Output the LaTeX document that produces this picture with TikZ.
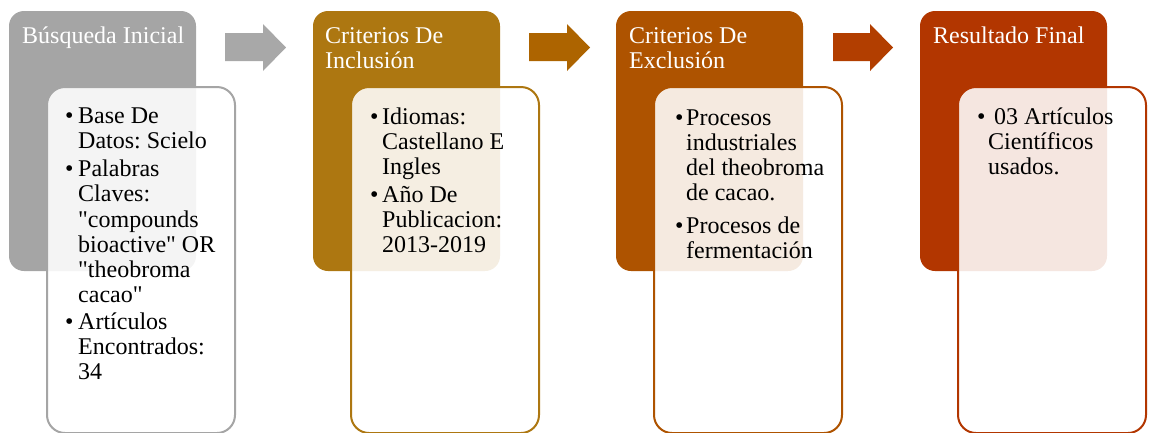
\documentclass[tikz,border=0pt]{standalone}
\usepackage{fontspec}
\setmainfont{Liberation Serif}
\frenchspacing
\definecolor{cA}{HTML}{A5A5A5}
\definecolor{cB}{HTML}{AD7711}
\definecolor{cC}{HTML}{AE5300}
\definecolor{cD}{HTML}{B23600}
\definecolor{aA}{HTML}{A8A8A8}
\definecolor{aB}{HTML}{AD6400}
\definecolor{aC}{HTML}{B23E00}
\tikzset{
  topbox/.style={rectangle, rounded corners=15pt, inner sep=0pt, outer sep=0pt, anchor=north west,
    minimum width=187pt, minimum height=260pt},
  lowbox/.style={rectangle, draw, line width=2pt, rounded corners=18pt, fill=white, fill opacity=0.88,
    inner sep=0pt, outer sep=0pt, anchor=north west, minimum width=188pt, minimum height=346pt},
  titletext/.style={anchor=base west, inner sep=0pt, text=white},
  bodytext/.style={anchor=base west, inner sep=0pt, text=black},
}
\newcommand{\qq}{\textquotedbl}
\begin{document}
\begin{tikzpicture}[x=1pt, y=-1pt]
\useasboundingbox (0,0) rectangle (1150,432);
% block arrows
\fill[aA] (225,33) -- (263,33) -- (263,24) -- (286,47.5) -- (263,71) -- (263,61) -- (225,61) -- cycle;
\fill[aB] (529,33) -- (567,33) -- (567,24) -- (590,47.5) -- (567,71) -- (567,61) -- (529,61) -- cycle;
\fill[aC] (833,33) -- (870,33) -- (870,24) -- (893,47.5) -- (870,71) -- (870,61) -- (833,61) -- cycle;
% panel 1
\node[topbox, fill=cA] (t1) at (9,11) {};
\node[lowbox, draw=cA] (l1) at (47,87) {};
\node[titletext, font=\fontsize{24}{25}\selectfont] (h1) at (22,43)
  {\begin{tabular}[t]{@{}l@{}}Búsqueda Inicial\end{tabular}};
\node[bodytext, font=\fontsize{24}{25.2}\selectfont] (b1) at (65,123.3)
  {\begin{tabular}[t]{@{}p{13pt}@{}l@{}}
   •&Base De\\
    &Datos: Scielo\\[3pt]
   •&Palabras\\
    &Claves:\\
    &\qq compounds\\
    &bioactive\qq{} OR\\
    &\qq theobroma\\
    &cacao\qq\\[1.1pt]
   •&Artículos\\
    &Encontrados:\\
    &34
   \end{tabular}};
% panel 2
\node[topbox, fill=cB] (t2) at (313,11) {};
\node[lowbox, draw=cB] (l2) at (351,87) {};
\node[titletext, font=\fontsize{24}{25}\selectfont] (h2) at (325,43)
  {\begin{tabular}[t]{@{}l@{}}Criterios De\\Inclusión\end{tabular}};
\node[bodytext, font=\fontsize{24}{25}\selectfont] (b2) at (370,124)
  {\begin{tabular}[t]{@{}p{12pt}@{}l@{}}
   •&Idiomas:\\
    &Castellano E\\
    &Ingles\\[3pt]
   •&Año De\\
    &Publicacion:\\
    &2013-2019
   \end{tabular}};
% panel 3
\node[topbox, fill=cC] (t3) at (616,11) {};
\node[lowbox, draw=cC] (l3) at (654,87) {};
\node[titletext, font=\fontsize{24}{25}\selectfont] (h3) at (629,43)
  {\begin{tabular}[t]{@{}l@{}}Criterios De\\Exclusión\end{tabular}};
\node[bodytext, font=\fontsize{24}{25.3}\selectfont] (b3) at (675,125)
  {\begin{tabular}[t]{@{}p{11pt}@{}l@{}}
   •&Procesos\\
    &industriales\\
    &del theobroma\\
    &de cacao.\\[7pt]
   •&Procesos de\\
    &fermentación
   \end{tabular}};
% panel 4
\node[topbox, fill=cD] (t4) at (920,11) {};
\node[lowbox, draw=cD] (l4) at (958,87) {};
\node[titletext, font=\fontsize{24}{25}\selectfont] (h4) at (933,43)
  {\begin{tabular}[t]{@{}l@{}}Resultado Final\end{tabular}};
\node[bodytext, font=\fontsize{24}{25}\selectfont] (b4) at (977,124)
  {\begin{tabular}[t]{@{}p{11pt}@{}l@{}}
   •&\hspace{6pt}03 Artículos\\
    &Científicos\\
    &usados.
   \end{tabular}};
\end{tikzpicture}
\end{document}
